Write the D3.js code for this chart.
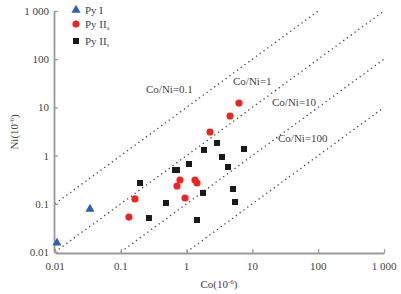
<!DOCTYPE html>
<html>
<head>
<meta charset="utf-8">
<script src="https://cdn.jsdelivr.net/npm/d3@7"></script>
<style>
  body { margin: 0; background: #fff; }
  svg text { font-family: "Liberation Serif", "DejaVu Serif", serif; fill: #444; }
</style>
</head>
<body>
<svg id="chart" width="401" height="294"></svg>
<script>
const pyI = [[0.0107, 0.0154], [0.034, 0.078]];
const pyIIa = [[0.133, 0.053], [0.164, 0.126], [0.715, 0.234], [0.794, 0.312], [0.946, 0.132],
               [1.342, 0.312], [1.44, 0.27], [2.27, 3.09], [4.57, 6.63], [6.25, 12.3]];
const pyIIs = [[0.196, 0.27], [0.268, 0.0507], [0.486, 0.104], [0.667, 0.502], [0.715, 0.502],
               [1.088, 0.67], [1.44, 0.0461], [1.775, 0.168], [1.838, 1.31], [2.9, 1.83],
               [3.45, 0.935], [4.26, 0.58], [5.07, 0.203], [5.44, 0.109], [7.45, 1.37]];
const ratios = [0.1, 1, 10, 100];
const ratioLabels = ["Co/Ni=0.1", "Co/Ni=1", "Co/Ni=10", "Co/Ni=100"];
const tickVals = [0.01, 0.1, 1, 10, 100, 1000];
const tickLabels = ["0.01", "0.1", "1", "10", "100", "1 000"];

let svg = d3.select('#chart'),
    x = d3.scaleLog().domain([0.01, 1000]).range([55, 384]),
    y = d3.scaleLog().domain([0.01, 1000]).range([252, 11]),
    axisColor = '#999';

// lignes Co/Ni
ratios.forEach(r => {
    let x0 = Math.max(0.01, 0.01 * r), x1 = Math.min(1000, 1000 * r);
    svg.append('line')
        .attr('x1', x(x0)).attr('y1', y(x0 / r))
        .attr('x2', x(x1)).attr('y2', y(x1 / r))
        .attr('stroke', '#444').attr('stroke-width', 1.3)
        .attr('stroke-dasharray', '1.3,3.4');
});

// axes
let xAxis = d3.axisTop(x).tickValues(tickVals).tickFormat('').tickSize(4).tickSizeOuter(0);
let gx = svg.append('g').attr('transform', 'translate(0,253)').call(xAxis);
let yAxis = d3.axisRight(y).tickValues(tickVals).tickFormat('').tickSize(4).tickSizeOuter(0);
let gy = svg.append('g').attr('transform', 'translate(54,0)').call(yAxis);
[gx, gy].forEach(g => {
    g.select('.domain').attr('stroke', axisColor).attr('stroke-width', 1.8);
    g.selectAll('.tick line').attr('stroke', axisColor).attr('stroke-width', 1.2);
});

svg.selectAll('.xlab').data(tickVals).enter().append('text')
    .attr('x', d => x(d)).attr('y', 270)
    .attr('text-anchor', 'middle').attr('font-size', 11)
    .text((d, i) => tickLabels[i]);
svg.selectAll('.ylab').data(tickVals).enter().append('text')
    .attr('x', 49).attr('y', d => y(d) + 4)
    .attr('text-anchor', 'end').attr('font-size', 11)
    .text((d, i) => tickLabels[i]);

// titres des axes
let xt = svg.append('text').attr('x', 219).attr('y', 288).attr('text-anchor', 'middle').attr('font-size', 11);
xt.append('tspan').text('Co(10');
xt.append('tspan').attr('font-size', 7).attr('dy', -4).text('-6');
xt.append('tspan').attr('dy', 4).text(')');
let yt = svg.append('text').attr('transform', 'translate(18,132) rotate(-90)').attr('text-anchor', 'middle').attr('font-size', 11);
yt.append('tspan').text('Ni(10');
yt.append('tspan').attr('font-size', 7).attr('dy', -4).text('-6');
yt.append('tspan').attr('dy', 4).text(')');

// étiquettes des rapports
const labelPos = [[146, 93], [233, 85], [272, 106], [278, 142]];
ratioLabels.forEach((t, i) => {
    svg.append('text').attr('x', labelPos[i][0]).attr('y', labelPos[i][1])
        .attr('font-size', 11).text(t);
});

// points
const tri = d3.symbol().type(d3.symbolTriangle).size(36);
svg.selectAll('.pyI').data(pyI).enter().append('path')
    .attr('d', tri)
    .attr('transform', d => `translate(${x(d[0])},${y(d[1])})`)
    .attr('fill', '#2f5fb3');
svg.selectAll('.pyIIa').data(pyIIa).enter().append('circle')
    .attr('cx', d => x(d[0])).attr('cy', d => y(d[1])).attr('r', 3.6)
    .attr('fill', '#ee2424');
svg.selectAll('.pyIIs').data(pyIIs).enter().append('rect')
    .attr('x', d => x(d[0]) - 3).attr('y', d => y(d[1]) - 3)
    .attr('width', 6).attr('height', 6)
    .attr('fill', '#1a1a1a');

// légende
let lg = svg.append('g');
lg.append('path').attr('d', tri).attr('transform', 'translate(76,10)').attr('fill', '#2f5fb3');
lg.append('circle').attr('cx', 76).attr('cy', 24).attr('r', 3.6).attr('fill', '#ee2424');
lg.append('rect').attr('x', 73).attr('y', 38).attr('width', 6).attr('height', 6).attr('fill', '#1a1a1a');
lg.append('text').attr('x', 85).attr('y', 14).attr('font-size', 11).text('Py I');
[['a', 28], ['s', 45]].forEach(([s, yy]) => {
    let t = lg.append('text').attr('x', 85).attr('y', yy).attr('font-size', 11);
    t.append('tspan').text('Py II');
    t.append('tspan').attr('font-size', 6).attr('dy', 2).text(s);
});
</script>
</body>
</html>
